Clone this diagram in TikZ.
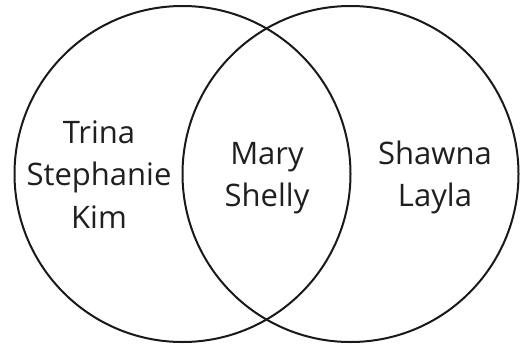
\documentclass[tikz,border=0pt]{standalone}
\usepackage{fontspec}
\setmainfont{Open Sans}
\begin{document}
\begin{tikzpicture}[x=1pt,y=-1pt,
  setcircle/.style={draw=black!90, line width=2pt},
  personlabel/.style={anchor=base, inner sep=0pt, font=\fontsize{31}{36}\selectfont, text=black!88}]
\useasboundingbox (0,0) rectangle (522,343);
\node[setcircle, circle, minimum size=336pt, inner sep=0pt] (L) at (182.5,174) {};
\node[setcircle, circle, minimum size=336pt, inner sep=0pt] (R) at (350.5,174) {};
\node[personlabel] (trina) at (99,143) {Trina};
\node[personlabel] (stephanie) at (99,185) {Stephanie};
\node[personlabel] (kim) at (99,228) {Kim};
\node[personlabel] (mary) at (267,164) {Mary};
\node[personlabel] (shelly) at (267,206) {Shelly};
\node[personlabel] (shawna) at (435,164) {Shawna};
\node[personlabel] (layla) at (435,206) {Layla};
\end{tikzpicture}
\end{document}
